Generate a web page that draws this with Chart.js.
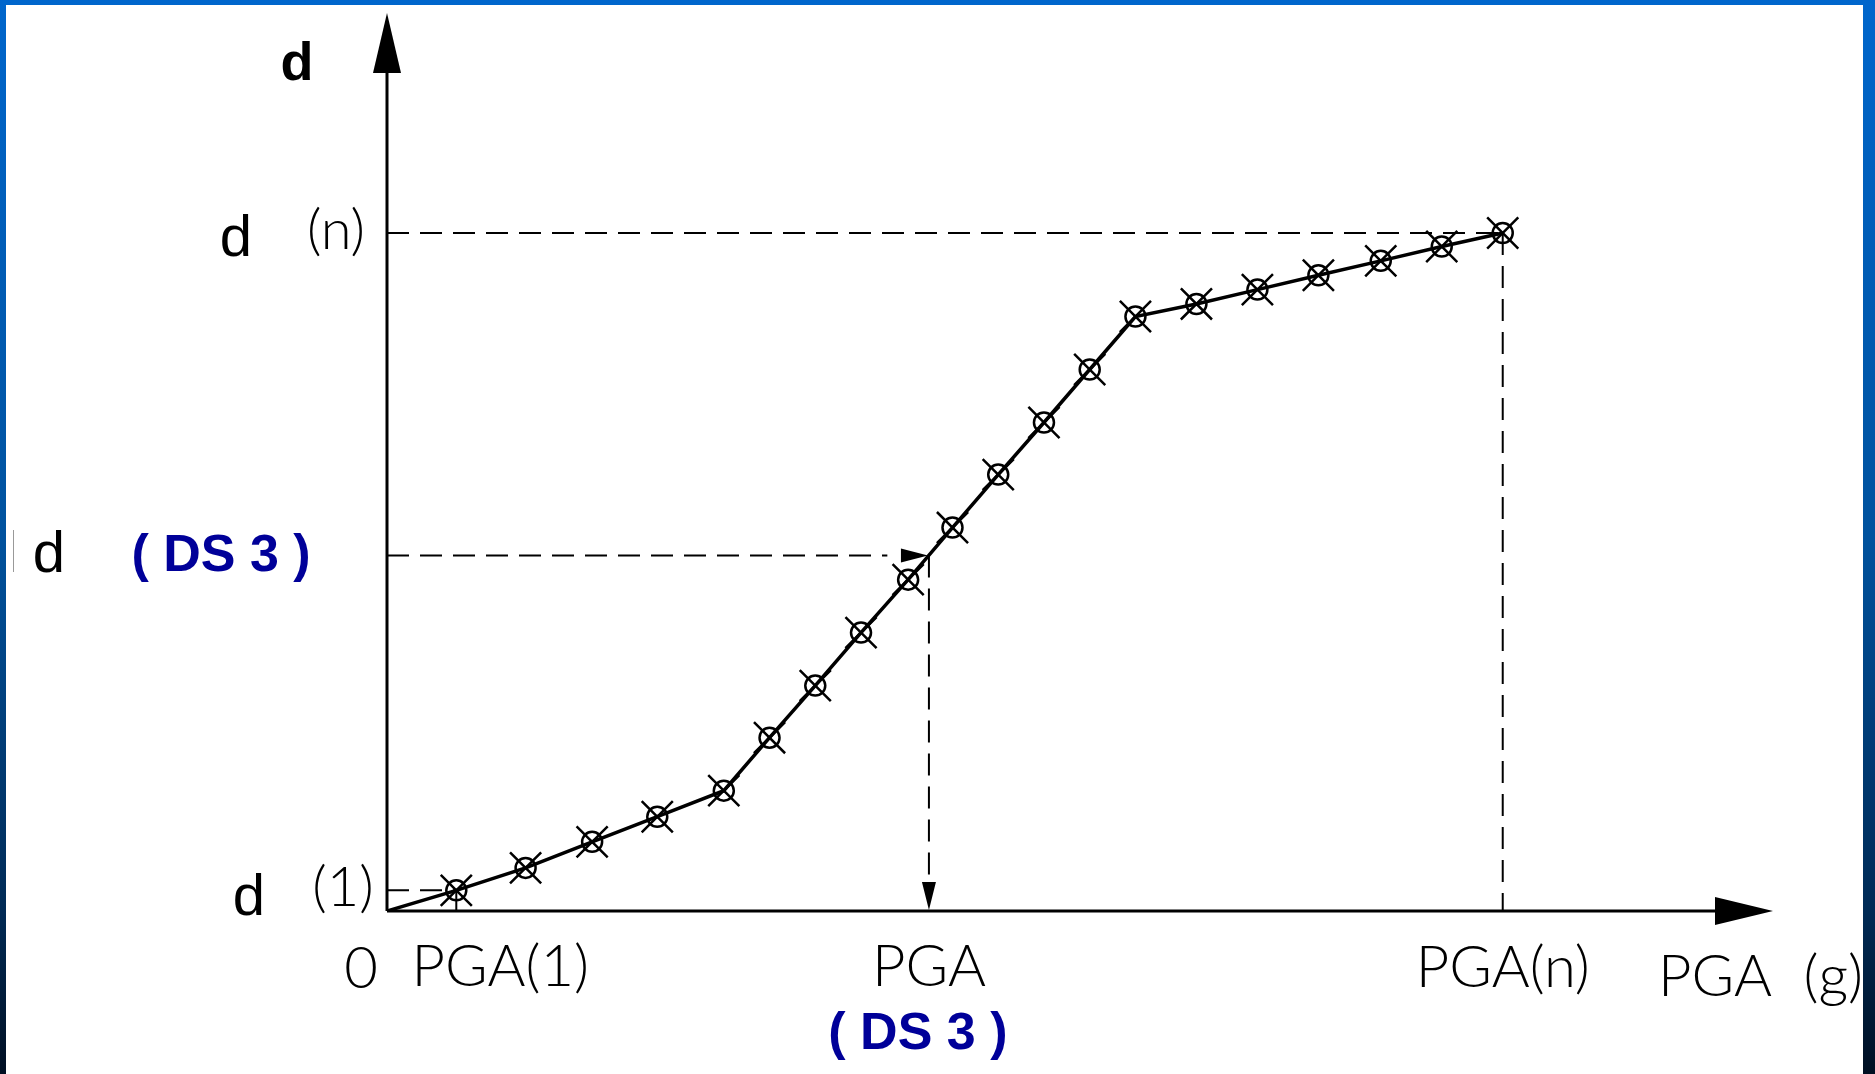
<!DOCTYPE html>
<html>
<head>
<meta charset="utf-8">
<script src="https://cdn.jsdelivr.net/npm/chart.js@4/dist/chart.umd.min.js"></script>
<style>
  html, body { margin: 0; padding: 0; background: #fff; }
  canvas { display: block; }
</style>
</head>
<body>
<canvas id="chart" width="1875" height="1074"></canvas>
<script>
// curve points (axis units 0..100)
const pga = [5.0, 10.0, 14.8, 19.5, 24.3, 27.6, 30.9, 34.2, 37.6, 40.8, 44.1, 47.4, 50.7, 54.0, 58.4, 62.8, 67.2, 71.7, 76.1, 80.5];
const disp = [2.3, 4.8, 7.7, 10.5, 13.4, 19.3, 25.1, 31.0, 36.9, 42.7, 48.6, 54.4, 60.3, 66.2, 67.6, 69.2, 70.8, 72.4, 74.0, 75.5];

// DS 3 reading
const pgaDS3 = 39.1;
const dDS3 = 39.6;

// tick labels
const xTickValues = [0, pga[0], pgaDS3, pga[pga.length - 1]];
const xTickLabels = ["0", "PGA(1)", "PGA", "PGA(n)"];
const yTickValues = [disp[0], dDS3, disp[disp.length - 1]];
const yTickLabels = ["(1)", "", "(n)"];
const xTitle = "PGA  (g)";
const yTitle = "d";
const dsLabel = "( DS 3 )";

const cadFont = (size) => "300 " + size + "px Lato, 'Liberation Sans', sans-serif";
const arialFont = (size, bold) => (bold ? "bold " : "") + size + "px 'Liberation Sans', Arial, sans-serif";
const blue = "#000099";

const curve = [{ x: 0, y: 0 }];
const marks = [];
for (let i = 0; i < pga.length; i++) {
  curve.push({ x: pga[i], y: disp[i] });
  marks.push({ x: pga[i], y: disp[i] });
}
const n = pga.length - 1;

const guide = (pts, dashed) => ({
  type: "line",
  data: pts,
  borderColor: "#000",
  borderWidth: 2,
  borderDash: dashed ? [22, 11] : [],
  pointRadius: 0,
  fill: false,
  tension: 0,
});

const arrowHead = (ctx, x, y, dir, len, half) => {
  ctx.beginPath();
  if (dir === "right") {
    ctx.moveTo(x, y);
    ctx.lineTo(x - len, y - half);
    ctx.lineTo(x - len, y + half);
  } else if (dir === "down") {
    ctx.moveTo(x, y);
    ctx.lineTo(x - half, y - len);
    ctx.lineTo(x + half, y - len);
  } else if (dir === "up") {
    ctx.moveTo(x, y);
    ctx.lineTo(x - half, y + len);
    ctx.lineTo(x + half, y + len);
  }
  ctx.closePath();
  ctx.fill();
};

const drawText = (ctx, text, x, y, font, color, align, base) => {
  ctx.font = font;
  ctx.fillStyle = color || "#000";
  ctx.textAlign = align || "center";
  ctx.textBaseline = base || "middle";
  ctx.fillText(text, x, y);
};

const sketchPlugin = {
  id: "sketch",
  beforeDraw(chart) {
    const ctx = chart.ctx;
    ctx.save();
    ctx.fillStyle = "#fff";
    ctx.fillRect(0, 0, chart.width, chart.height);
    ctx.restore();
  },
  beforeDatasetsDraw(chart) {
    const ctx = chart.ctx;
    const xs = chart.scales.x, ys = chart.scales.y;
    const x0 = xs.getPixelForValue(0), y0 = ys.getPixelForValue(0);
    const xEnd = xs.getPixelForValue(xs.max), yEnd = ys.getPixelForValue(ys.max);
    ctx.save();
    ctx.strokeStyle = "#000";
    ctx.fillStyle = "#000";
    ctx.lineWidth = 3;
    ctx.beginPath();
    ctx.moveTo(x0, y0);
    ctx.lineTo(xEnd - 50, y0);
    ctx.moveTo(x0, y0);
    ctx.lineTo(x0, yEnd + 55);
    ctx.stroke();
    // axis arrows
    arrowHead(ctx, xEnd, y0, "right", 58, 14);
    arrowHead(ctx, x0, yEnd, "up", 60, 14);
    ctx.restore();
  },
  afterDatasetsDraw(chart) {
    const ctx = chart.ctx;
    const xs = chart.scales.x, ys = chart.scales.y;
    const x0 = xs.getPixelForValue(0), y0 = ys.getPixelForValue(0);
    const px = xTickValues.map((v) => xs.getPixelForValue(v));
    const py = yTickValues.map((v) => ys.getPixelForValue(v));
    ctx.save();
    ctx.fillStyle = "#000";
    // arrows on the DS 3 reading
    arrowHead(ctx, px[2] - 1, py[1], "right", 27, 7);
    arrowHead(ctx, px[2], y0 - 1, "down", 28, 7);

    // y labels
    drawText(ctx, yTitle, x0 - 90, ys.getPixelForValue(ys.max) + 67, arialFont(54, true), "#000", "center", "alphabetic");
    drawText(ctx, "d", x0 - 151, py[2] + 23, arialFont(58), "#000", "center", "alphabetic");
    drawText(ctx, yTickLabels[2], x0 - 51, py[2] - 2, cadFont(56));
    drawText(ctx, "d", 49, py[1] + 17, arialFont(58), "#000", "center", "alphabetic");
    drawText(ctx, dsLabel, 221, py[1] + 16, arialFont(52, true), blue, "center", "alphabetic");
    drawText(ctx, "d", x0 - 138, py[0] + 25, arialFont(58), "#000", "center", "alphabetic");
    drawText(ctx, yTickLabels[0], x0 - 44, py[0] - 2, cadFont(56));

    // x labels
    drawText(ctx, xTickLabels[0], px[0] - 26, y0 + 58, cadFont(58));
    drawText(ctx, xTickLabels[1], px[1] + 44, y0 + 56, cadFont(58));
    drawText(ctx, xTickLabels[2], px[2], y0 + 56, cadFont(58));
    drawText(ctx, dsLabel, px[2] - 11, y0 + 124, arialFont(52, true), blue);
    drawText(ctx, xTickLabels[3], px[3], y0 + 57, cadFont(58));
    drawText(ctx, xTitle, 1658, y0 + 66, cadFont(58), "#000", "left");
    ctx.restore();
  },
  afterDraw(chart) {
    const ctx = chart.ctx;
    const w = chart.width, h = chart.height;
    ctx.save();
    const g = ctx.createLinearGradient(0, 0, 0, h);
    g.addColorStop(0, "#0066cc");
    g.addColorStop(0.5, "#00529e");
    g.addColorStop(0.85, "#002a55");
    g.addColorStop(1, "#000f22");
    ctx.fillStyle = g;
    ctx.fillRect(0, 0, w, 5);
    ctx.fillRect(0, 0, 6, h);
    ctx.fillRect(w - 12, 0, 12, h);
    // small scan mark left of the DS 3 label
    ctx.strokeStyle = "#999";
    ctx.lineWidth = 1;
    ctx.beginPath();
    ctx.moveTo(13.5, 530);
    ctx.lineTo(13.5, 572);
    ctx.stroke();
    ctx.restore();
  },
};

new Chart(document.getElementById("chart"), {
  type: "scatter",
  data: {
    datasets: [
      guide([{ x: 0, y: disp[n] }, { x: pga[n], y: disp[n] }], true),
      guide([{ x: pga[n], y: disp[n] }, { x: pga[n], y: 0 }], true),
      guide([{ x: 0, y: dDS3 }, { x: pgaDS3 - 3, y: dDS3 }], true),
      guide([{ x: pgaDS3, y: dDS3 }, { x: pgaDS3, y: 3 }], true),
      guide([{ x: 0, y: disp[0] }, { x: pga[0], y: disp[0] }], true),
      guide([{ x: pga[0], y: disp[0] }, { x: pga[0], y: 0 }], false),
      {
        type: "line",
        data: curve,
        borderColor: "#000",
        borderWidth: 3.5,
        tension: 0,
        fill: false,
        pointStyle: "circle",
        pointRadius: curve.map((p, i) => (i === 0 ? 0 : 10)),
        pointBorderWidth: 2.5,
        pointBorderColor: "#000",
        pointBackgroundColor: "rgba(0,0,0,0)",
      },
      {
        data: marks,
        showLine: false,
        pointStyle: "crossRot",
        pointRadius: 22,
        pointBorderWidth: 2.5,
        pointBorderColor: "#000",
      },
    ],
  },
  options: {
    responsive: false,
    animation: false,
    events: [],
    layout: { autoPadding: false, padding: { left: 387, right: 102, top: 13, bottom: 163 } },
    plugins: { legend: { display: false }, tooltip: { enabled: false } },
    scales: {
      x: { type: "linear", min: 0, max: 100, display: false },
      y: { type: "linear", min: 0, max: 100, display: false },
    },
  },
  plugins: [sketchPlugin],
});
</script>
</body>
</html>
